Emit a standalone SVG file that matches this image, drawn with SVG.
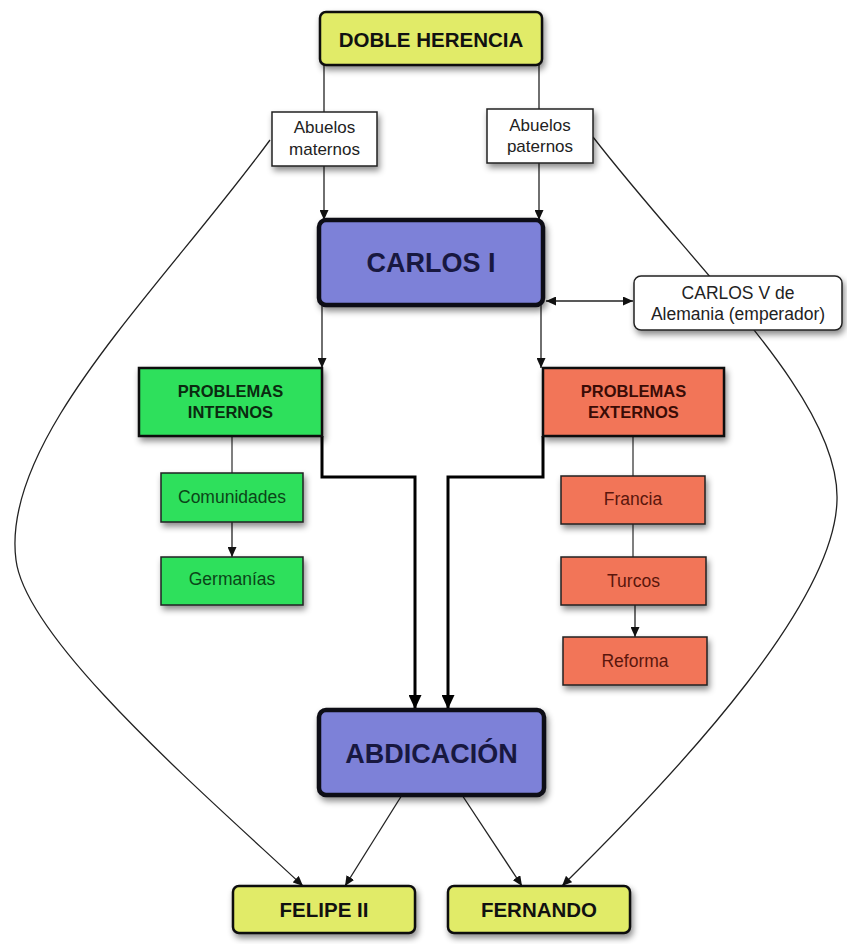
<svg xmlns="http://www.w3.org/2000/svg" width="847" height="944" viewBox="0 0 847 944">
<style>
.bg{fill:#ffffff}
.yel{fill:#e1eb67;stroke:#111;stroke-width:2.5}
.blue{fill:#7d81d8;stroke:#0d0d14;stroke-width:4.5}
.grn{fill:#2ee05c;stroke:#111;stroke-width:2.5}
.grn2{fill:#2ee05c;stroke:#222;stroke-width:1.5}
.red{fill:#f27458;stroke:#111;stroke-width:2.5}
.red2{fill:#f27458;stroke:#222;stroke-width:1.5}
.wht{fill:#ffffff;stroke:#222;stroke-width:1.5}
text{font-family:"Liberation Sans",Arial,Helvetica,sans-serif;text-anchor:middle}
.tb{font-weight:bold;font-size:20.5px;fill:#111}
.tbig{font-weight:bold;font-size:27px;fill:#181840}
.tpi{font-weight:bold;font-size:16.5px;fill:#0b2a10}
.tpe{font-weight:bold;font-size:16.5px;fill:#3a0c06}
.tg{font-size:17.5px;fill:#0b4518}
.tr{font-size:17.5px;fill:#5a160c}
.tw{font-size:17px;fill:#222}
.c{fill:none;stroke:#222;stroke-width:1.3}
.cg{fill:none;stroke:#555;stroke-width:1.5}
.ct{fill:none;stroke:#000;stroke-width:3}
</style>
<defs>
<filter id="sh" x="-20%" y="-20%" width="150%" height="160%">
<feDropShadow dx="2" dy="4" stdDeviation="3" flood-color="#000" flood-opacity="0.45"/>
</filter>
<marker id="a" markerUnits="userSpaceOnUse" markerWidth="10" markerHeight="9" refX="10" refY="4.5" orient="auto-start-reverse">
<path d="M0,0 L10,4.5 L0,9 z" fill="#111"/>
</marker>
<marker id="ab" markerUnits="userSpaceOnUse" markerWidth="14" markerHeight="13" refX="14" refY="6.5" orient="auto">
<path d="M0,0 L14,6.5 L0,13 z" fill="#000"/>
</marker>
</defs>
<rect class="bg" x="0" y="0" width="847" height="944"/>
<g id="connectors">
<path class="c" d="M324,65 V112"/>
<path class="c" d="M539,65 V109"/>
<path class="c" d="M324,166 V220" marker-end="url(#a)"/>
<path class="c" d="M539,163 V220" marker-end="url(#a)"/>
<path class="c" d="M546,301 H633" marker-start="url(#a)" marker-end="url(#a)"/>
<path class="c" d="M322,305 V368" marker-end="url(#a)"/>
<path class="c" d="M541,305 V368" marker-end="url(#a)"/>
<path class="cg" d="M232,436 V473"/>
<path class="c" d="M232,522 V557" marker-end="url(#a)"/>
<path class="cg" d="M633,436 V476"/>
<path class="cg" d="M633,524 V557"/>
<path class="c" d="M635,605 V637" marker-end="url(#a)"/>
<path class="ct" d="M322,436 V477 H415 V709" marker-end="url(#ab)"/>
<path class="ct" d="M543,436 V477 H448 V709" marker-end="url(#ab)"/>
<path class="c" d="M402,795 L345,886" marker-end="url(#a)"/>
<path class="c" d="M462,795 L522,886" marker-end="url(#a)"/>
<path class="c" d="M270,140 C160,290 0,440 16,560 C26,640 200,790 303,886" marker-end="url(#a)"/>
<path class="c" d="M593,137 C700,275 840,400 837,500 C835,600 690,760 562,886" marker-end="url(#a)"/>
</g>
<g id="doble-herencia">
<rect class="yel" x="320" y="12" width="222" height="53" rx="6" filter="url(#sh)"/>
<text class="tb" x="431" y="47">DOBLE HERENCIA</text>
</g>
<g id="abuelos-maternos">
<rect class="wht" x="272" y="112" width="105" height="54" filter="url(#sh)"/>
<text class="tw" x="324.5" y="133">Abuelos</text>
<text class="tw" x="324.5" y="155">maternos</text>
</g>
<g id="abuelos-paternos">
<rect class="wht" x="487" y="109" width="106" height="54" filter="url(#sh)"/>
<text class="tw" x="540" y="131">Abuelos</text>
<text class="tw" x="540" y="152">paternos</text>
</g>
<g id="carlos-i">
<rect class="blue" x="319" y="220" width="224" height="85" rx="7" filter="url(#sh)"/>
<text class="tbig" x="431" y="272">CARLOS I</text>
</g>
<g id="carlos-v">
<rect class="wht" x="634" y="276" width="208" height="54" rx="7" filter="url(#sh)"/>
<text class="tw" x="738" y="299" style="font-size:17.5px">CARLOS V de</text>
<text class="tw" x="738" y="320" style="font-size:17.5px">Alemania (emperador)</text>
</g>
<g id="problemas-internos">
<rect class="grn" x="139" y="368" width="183" height="68" filter="url(#sh)"/>
<text class="tpi" x="230.5" y="397">PROBLEMAS</text>
<text class="tpi" x="230.5" y="418">INTERNOS</text>
</g>
<g id="comunidades">
<rect class="grn2" x="161" y="473" width="142" height="49" filter="url(#sh)"/>
<text class="tg" x="232" y="503">Comunidades</text>
</g>
<g id="germanias">
<rect class="grn2" x="161" y="557" width="142" height="48" filter="url(#sh)"/>
<text class="tg" x="232" y="585">Germanías</text>
</g>
<g id="problemas-externos">
<rect class="red" x="543" y="368" width="181" height="68" filter="url(#sh)"/>
<text class="tpe" x="633.5" y="397">PROBLEMAS</text>
<text class="tpe" x="633.5" y="418">EXTERNOS</text>
</g>
<g id="francia">
<rect class="red2" x="561" y="476" width="144" height="48" filter="url(#sh)"/>
<text class="tr" x="633" y="505">Francia</text>
</g>
<g id="turcos">
<rect class="red2" x="561" y="557" width="145" height="48" filter="url(#sh)"/>
<text class="tr" x="633.5" y="587">Turcos</text>
</g>
<g id="reforma">
<rect class="red2" x="563" y="637" width="144" height="48" filter="url(#sh)"/>
<text class="tr" x="635" y="667">Reforma</text>
</g>
<g id="abdicacion">
<rect class="blue" x="319" y="710" width="225" height="85" rx="7" filter="url(#sh)"/>
<text class="tbig" x="431.5" y="763">ABDICACIÓN</text>
</g>
<g id="felipe-ii">
<rect class="yel" x="233" y="886" width="182" height="47" rx="6" filter="url(#sh)"/>
<text class="tb" x="324" y="917">FELIPE II</text>
</g>
<g id="fernando">
<rect class="yel" x="448" y="886" width="182" height="47" rx="6" filter="url(#sh)"/>
<text class="tb" x="539" y="917">FERNANDO</text>
</g>
</svg>
